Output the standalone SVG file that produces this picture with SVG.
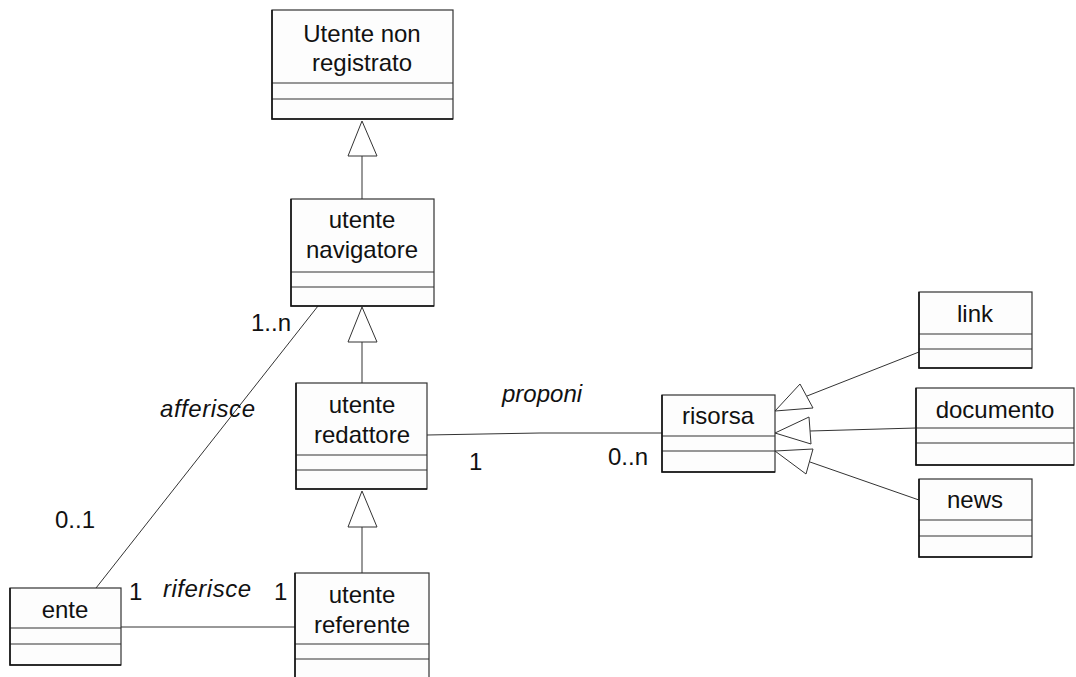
<svg xmlns="http://www.w3.org/2000/svg" width="1076" height="677" viewBox="0 0 1076 677">
<style>
.box{fill:#fdfdfd;stroke:#333;stroke-width:1.2}
.div{stroke:#333;stroke-width:1.2;fill:none}
.sh{stroke:#111;stroke-width:1.5;fill:none}
.t{font-family:"Liberation Sans",Arial,sans-serif;font-size:24px;fill:#111;text-anchor:middle}
.l{font-family:"Liberation Sans",Arial,sans-serif;font-size:24px;fill:#111}
.i{font-style:italic}
.c{stroke:#333;stroke-width:1;fill:none}
.tri{fill:#fff;stroke:#333;stroke-width:1}
</style>
<rect width="1076" height="677" fill="#fff"/>
<g id="connectors">
  <line class="c" x1="362" y1="156" x2="362" y2="199"/>
  <polygon class="tri" points="362,121 348,156 377,156"/>
  <line class="c" x1="362" y1="342" x2="362" y2="383"/>
  <polygon class="tri" points="362,307 348,342 377,342"/>
  <line class="c" x1="362" y1="527" x2="362" y2="573"/>
  <polygon class="tri" points="362,491 348,527 377,527"/>
  <line class="c" x1="318" y1="306" x2="96" y2="588"/>
  <line class="c" x1="121" y1="627" x2="295" y2="627"/>
  <path class="c" d="M427,435 L540,433 L662,433"/>
  <line class="c" x1="807" y1="396" x2="919" y2="352"/>
  <polygon class="tri" points="775,411 800,384 813,408"/>
  <line class="c" x1="810" y1="431" x2="916" y2="428"/>
  <polygon class="tri" points="775,433 809,417 811,444"/>
  <line class="c" x1="810" y1="462" x2="919" y2="500"/>
  <polygon class="tri" points="775,451 813,449 806,474"/>
  <text class="l" x="251" y="331">1..n</text>
  <text class="l i" x="160" y="417" textLength="95">afferisce</text>
  <text class="l" x="55" y="528">0..1</text>
  <text class="l" x="129" y="600">1</text>
  <text class="l i" x="163" y="597" textLength="88">riferisce</text>
  <text class="l" x="274" y="600">1</text>
  <text class="l i" x="502" y="402">proponi</text>
  <text class="l" x="469" y="470">1</text>
  <text class="l" x="608" y="465">0..n</text>
</g>
<g id="utente-non-registrato">
  <rect class="box" x="272" y="10" width="181" height="109"/>
  <line class="div" x1="272" y1="83" x2="453" y2="83"/>
  <line class="div" x1="272" y1="99" x2="453" y2="99"/>
  <polyline class="sh" points="272,10 272,119 453,119"/>
  <text class="t" x="362" y="42">Utente non</text>
  <text class="t" x="362" y="71">registrato</text>
</g>
<g id="utente-navigatore">
  <rect class="box" x="291" y="199" width="143" height="107"/>
  <line class="div" x1="291" y1="272" x2="434" y2="272"/>
  <line class="div" x1="291" y1="287" x2="434" y2="287"/>
  <polyline class="sh" points="291,199 291,306 434,306"/>
  <text class="t" x="362" y="228">utente</text>
  <text class="t" x="362" y="258">navigatore</text>
</g>
<g id="utente-redattore">
  <rect class="box" x="296" y="383" width="131" height="106"/>
  <line class="div" x1="296" y1="455" x2="427" y2="455"/>
  <line class="div" x1="296" y1="470" x2="427" y2="470"/>
  <polyline class="sh" points="296,383 296,489 427,489"/>
  <text class="t" x="362" y="413">utente</text>
  <text class="t" x="362" y="443">redattore</text>
</g>
<g id="utente-referente">
  <rect class="box" x="295" y="573" width="134" height="110"/>
  <line class="div" x1="295" y1="644" x2="429" y2="644"/>
  <line class="div" x1="295" y1="659" x2="429" y2="659"/>
  <line class="sh" x1="295" y1="573" x2="295" y2="677"/>
  <text class="t" x="362" y="603">utente</text>
  <text class="t" x="362" y="633">referente</text>
</g>
<g id="ente">
  <rect class="box" x="10" y="588" width="111" height="77"/>
  <line class="div" x1="10" y1="628" x2="121" y2="628"/>
  <line class="div" x1="10" y1="644" x2="121" y2="644"/>
  <polyline class="sh" points="10,588 10,665 121,665"/>
  <text class="t" x="65" y="618">ente</text>
</g>
<g id="risorsa">
  <rect class="box" x="662" y="395" width="113" height="77"/>
  <line class="div" x1="662" y1="436" x2="775" y2="436"/>
  <line class="div" x1="662" y1="451" x2="775" y2="451"/>
  <polyline class="sh" points="662,395 662,472 775,472"/>
  <text class="t" x="718" y="424">risorsa</text>
</g>
<g id="link">
  <rect class="box" x="919" y="292" width="113" height="76"/>
  <line class="div" x1="919" y1="334" x2="1032" y2="334"/>
  <line class="div" x1="919" y1="349" x2="1032" y2="349"/>
  <polyline class="sh" points="919,292 919,368 1032,368"/>
  <text class="t" x="975" y="322">link</text>
</g>
<g id="documento">
  <rect class="box" x="916" y="388" width="158" height="77"/>
  <line class="div" x1="916" y1="428" x2="1074" y2="428"/>
  <line class="div" x1="916" y1="443" x2="1074" y2="443"/>
  <polyline class="sh" points="916,388 916,465 1074,465"/>
  <text class="t" x="995" y="418">documento</text>
</g>
<g id="news">
  <rect class="box" x="919" y="479" width="113" height="78"/>
  <line class="div" x1="919" y1="520" x2="1032" y2="520"/>
  <line class="div" x1="919" y1="536" x2="1032" y2="536"/>
  <polyline class="sh" points="919,479 919,557 1032,557"/>
  <text class="t" x="975" y="508">news</text>
</g>
</svg>
